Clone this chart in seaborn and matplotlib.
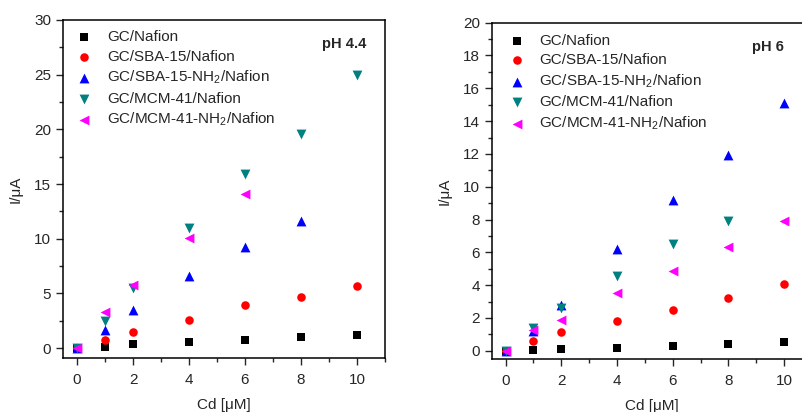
import numpy as np
import pandas as pd
import matplotlib
matplotlib.use("Agg")
import matplotlib.pyplot as plt
import seaborn as sns
from matplotlib.ticker import MultipleLocator

# ---------------- data ----------------
cd = [0, 1, 2, 4, 6, 8, 10]

labels = ["GC/Nafion", "GC/SBA-15/Nafion", "GC/SBA-15-NH$_2$/Nafion",
          "GC/MCM-41/Nafion", "GC/MCM-41-NH$_2$/Nafion"]
colors = ["#000000", "#ff0000", "#0000ff", "#008080", "#ff00ff"]
markers = ["s", "o", "^", "v", "<"]
marker_sizes = [30, 38, 50, 50, 50]

# pH 4.4 (None = no point)
ph44_nafion = [0, 0.15, 0.34, 0.58, 0.79, 1.04, 1.22]
ph44_sba = [0, 0.79, 1.46, 2.62, 3.94, 4.67, 5.71]
ph44_sba_nh2 = [0, 1.62, 3.5, 6.62, 9.25, 11.63, None]
ph44_mcm = [0, 2.53, 5.5, 10.98, 15.93, 19.6, 24.96]
ph44_mcm_nh2 = [0, 3.3, 5.8, 10.1, 14.1, None, None]

# pH 6
ph6_nafion = [0, 0.08, 0.1, 0.16, 0.28, 0.41, 0.51]
ph6_sba = [0, 0.61, 1.12, 1.83, 2.5, 3.23, 4.08]
ph6_sba_nh2 = [0, 1.22, 2.8, 6.19, 9.2, 11.94, 15.09]
ph6_mcm = [0, 1.42, 2.58, 4.53, 6.52, 7.94, None]
ph6_mcm_nh2 = [0, 1.28, 1.89, 3.51, 4.87, 6.34, 7.94]


def to_frame(series):
    rows = []
    for lab, vals in zip(labels, series):
        for x, y in zip(cd, vals):
            if y is not None:
                rows.append({"Cd": x, "I": y, "Elektrode": lab})
    return pd.DataFrame(rows)


df44 = to_frame([ph44_nafion, ph44_sba, ph44_sba_nh2, ph44_mcm, ph44_mcm_nh2])
df6 = to_frame([ph6_nafion, ph6_sba, ph6_sba_nh2, ph6_mcm, ph6_mcm_nh2])

# ---------------- style ----------------
sns.set_theme(style="ticks")
plt.rcParams['font.family'] = ['Liberation Sans', 'DejaVu Sans']
plt.rcParams['mathtext.fontset'] = 'custom'
plt.rcParams['mathtext.rm'] = 'Liberation Sans'
plt.rcParams['mathtext.it'] = 'Liberation Sans'

fig = plt.figure(figsize=(8.02, 4.12), dpi=100)
ax1 = fig.add_axes([0.0786, 0.131, 0.4014, 0.8205])
ax2 = fig.add_axes([0.613, 0.1286, 0.3994, 0.8164])


def draw_panel(ax, data, ymax, ymin, ymajor, yminor, ph_text, ph_xy, leg_anchor):
    for lab, c, m, s in zip(labels, colors, markers, marker_sizes):
        sub = data[data["Elektrode"] == lab]
        sns.scatterplot(data=sub, x="Cd", y="I", color=c, marker=m, s=s,
                        linewidth=0, ax=ax, label=lab)
    ax.legend(loc="upper left", frameon=False, fontsize=11,
              bbox_to_anchor=leg_anchor, handletextpad=1.0,
              labelspacing=0.35, borderaxespad=0.47, borderpad=0.4,
              handlelength=1.0)
    ax.set_xlim(-0.5, 11)
    ax.set_ylim(ymin, ymax)
    ax.xaxis.set_major_locator(MultipleLocator(2))
    ax.xaxis.set_minor_locator(MultipleLocator(1))
    ax.yaxis.set_major_locator(MultipleLocator(ymajor))
    ax.yaxis.set_minor_locator(MultipleLocator(yminor))
    ax.tick_params(which="major", direction="out", length=5, width=1,
                   labelsize=11, top=False, right=False)
    ax.tick_params(axis="x", which="major", pad=6)
    ax.tick_params(which="minor", direction="out", length=3, width=1,
                   top=False, right=False)
    for sp in ax.spines.values():
        sp.set_linewidth(1.1)
        sp.set_color("black")
    ax.set_xlabel("Cd [\u03bcM]", fontsize=11, labelpad=8)
    ax.set_ylabel("I/\u03bcA", fontsize=11, labelpad=8)
    ax.text(ph_xy[0], ph_xy[1], ph_text, transform=ax.transAxes,
            fontsize=10.5, fontweight="bold", ha="center", va="center")


draw_panel(ax1, df44, 30, -0.9, 5, 2.5, "pH 4.4", (0.874, 0.930), (0.0, 1.009))
draw_panel(ax2, df6, 20, -0.5, 2, 1, "pH 6", (0.864, 0.928), (0.0125, 1.006))

fig.savefig("out.png", dpi=100)
